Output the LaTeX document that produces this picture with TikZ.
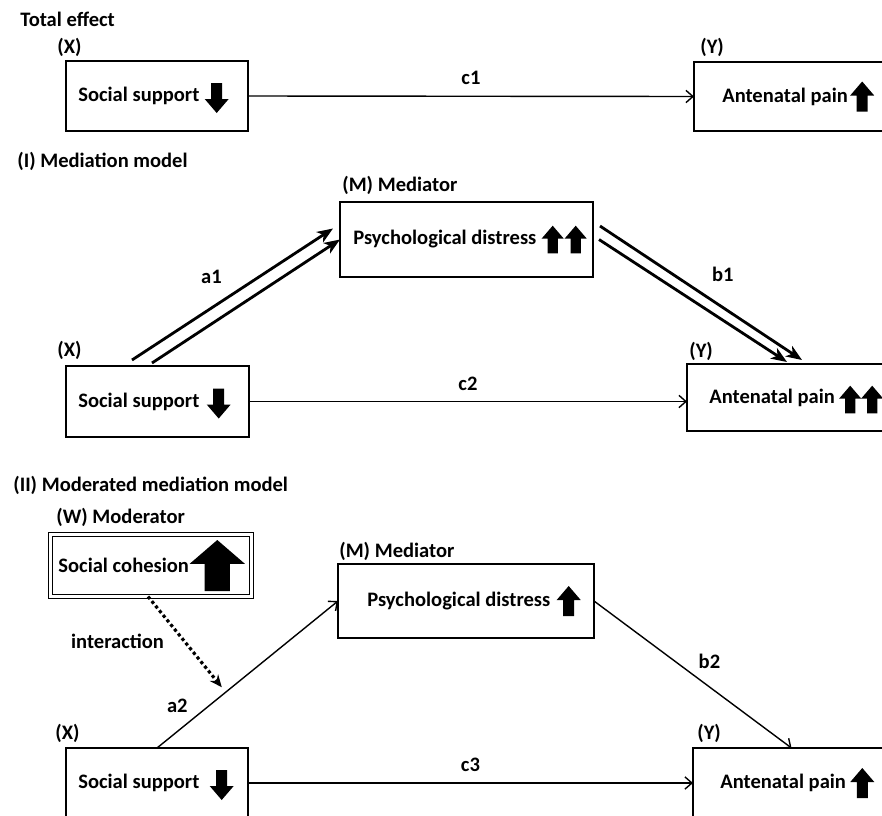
\documentclass[tikz,border=0pt]{standalone}
\usepackage{fontspec}
\setmainfont{Carlito}
\usetikzlibrary{arrows.meta,positioning}

\tikzset{
  boxsize/.style 2 args={minimum width=#1*0.02cm, minimum height=#2*0.02cm},
  box/.style={draw, line width=0.7pt, anchor=north west, inner sep=0pt, outer sep=0pt},
  lbl/.style={inner sep=0pt, font=\fontsize{11.7}{14}\selectfont\bfseries},
  thinarr/.style={line width=0.8pt, -{Straight Barb[length=4pt,width=7pt]}},
  thickarr/.style={line width=1.6pt, -{Stealth[length=9pt,width=7pt,inset=2.5pt]}},
  dotarr/.style={line width=1.8pt, dash pattern=on 1.8pt off 1.6pt, -{Stealth[length=7pt,width=6pt]}},
  uparr/.pic={\fill (-5.5,15) -- (-5.5,-1) -- (-12,-1) -- (0,-15) -- (12,-1) -- (5.5,-1) -- (5.5,15) -- cycle;},
  downarr/.pic={\fill (-5.5,-15) -- (-5.5,1) -- (-12,1) -- (0,15) -- (12,1) -- (5.5,1) -- (5.5,-15) -- cycle;}
}

\begin{document}
\begin{tikzpicture}[x=0.02cm, y=-0.02cm]
\useasboundingbox (0,0) rectangle (882,815);
\clip (0,0) rectangle (882,815);

% total effect
\node[lbl, anchor=west] (ttl1) at (20,19) {Total effect};
\node[box, boxsize={182}{70}] (xa) at (66,61) {};
\node[box, boxsize={215}{69}] (ya) at (694,62) {};
\node[lbl, anchor=west] (xalab) at ([shift={(-9,-14)}]xa.north west) {(X)};
\node[lbl, anchor=west] (yalab) at ([shift={(6,-15)}]ya.north west) {(Y)};
\node[lbl, right=6.8pt of xa.west] (xatxt) {Social support};
\node[lbl, right=15.9pt of ya.west] (yatxt) {Antenatal pain};
\pic at ([shift={(17,2)}]xatxt.east) {downarr};
\pic at ([shift={(14,0)}]yatxt.east) {uparr};
\draw[thinarr] (xa.east) -- (ya.west) node[lbl, midway, above=6pt] {c1};

% (I) mediation
\node[lbl, anchor=west] (ttl2) at (17,161) {(I) Mediation model};
\node[box, boxsize={253}{75}] (mb) at (340,202) {};
\node[box, boxsize={183}{71}] (xb) at (66,366) {};
\node[box, boxsize={215}{67}] (yb) at (687,364) {};
\node[lbl, anchor=west] (mblab) at ([shift={(2,-17)}]mb.north west) {(M) Mediator};
\node[lbl, anchor=west] (xblab) at ([shift={(-9,-16)}]xb.north west) {(X)};
\node[lbl, anchor=west] (yblab) at ([shift={(2,-13)}]yb.north west) {(Y)};
\node[lbl, right=7.4pt of mb.west] (mbtxt) {Psychological distress};
\node[lbl, right=6.8pt of xb.west] (xbtxt) {Social support};
\node[lbl, right=12.5pt of yb.west] (ybtxt) {Antenatal pain};
\pic[scale=0.92] at ([shift={(16,0)}]mbtxt.east) {uparr};
\pic[scale=0.92] at ([shift={(39,0)}]mbtxt.east) {uparr};
\pic at ([shift={(19,2)}]xbtxt.east) {downarr};
\pic[scale=0.92] at ([shift={(15,2)}]ybtxt.east) {uparr};
\pic[scale=0.92] at ([shift={(37,2)}]ybtxt.east) {uparr};
\draw[thickarr] ([shift={(-25.5,-6)}]xb.north) -- ([shift={(-7,-11)}]mb.west)
  node[lbl, midway, above left=5.3pt and 5.3pt] {a1};
\draw[thickarr] ([shift={(-5.5,-3)}]xb.north) -- (mb.west);
\draw[thickarr] ([shift={(7,-13.5)}]mb.east) -- ([shift={(7.5,-4)}]yb.north)
  node[lbl, midway, above right=5.5pt and 5.5pt] {b1};
\draw[thickarr] ([shift={(6,0)}]mb.east) -- ([shift={(-7.5,-2)}]yb.north);
\draw[thinarr] (xb.east) -- (xb.east -| yb.west) node[lbl, midway, above=6pt] {c2};

% (II) moderated mediation
\node[lbl, anchor=west] (ttl3) at (13,485) {(II) Moderated mediation model};
\node[box, boxsize={201}{62}, double, double distance=1.6pt, line width=0.6pt] (wc) at (50.5,534.5) {};
\node[box, boxsize={256}{74}] (mc) at (338,564) {};
\node[box, boxsize={182}{70}] (xc) at (66,748) {};
\node[box, boxsize={215}{70}] (yc) at (693,748) {};
\node[lbl, anchor=west] (wclab) at ([shift={(5.5,-17.5)}]wc.north west) {(W) Moderator};
\node[lbl, anchor=west] (mclab) at ([shift={(1,-13)}]mc.north west) {(M) Mediator};
\node[lbl, anchor=west] (xclab) at ([shift={(-11,-15)}]xc.north west) {(X)};
\node[lbl, anchor=west] (yclab) at ([shift={(4,-15)}]yc.north west) {(Y)};
\node[lbl, right=4.3pt of wc.west] (wctxt) {Social cohesion};
\node[lbl, right=16.5pt of mc.west] (mctxt) {Psychological distress};
\node[lbl, right=6.8pt of xc.west] (xctxt) {Social support};
\node[lbl, right=15.4pt of yc.west] (yctxt) {Antenatal pain};
\pic[xscale=2.3, yscale=1.7] at ([shift={(28,0)}]wctxt.east) {uparr};
\pic at ([shift={(18,0)}]mctxt.east) {uparr};
\pic at ([shift={(22,2)}]xctxt.east) {downarr};
\pic at ([shift={(16,0)}]yctxt.east) {uparr};
\draw[thinarr] (xc.north) -- (mc.west) coordinate[pos=0.38] (ia)
  node[lbl, pos=0.2, above left=2.8pt and 2.8pt] {a2};
\draw[thinarr] (mc.east) -- ([shift={(-9,0)}]yc.north)
  node[lbl, midway, above right=3pt and 3pt] {b2};
\draw[thinarr] (xc.east) -- (yc.west) node[lbl, midway, above=6pt] {c3};
\draw[dotarr, shorten >=3.6pt] ([shift={(-3,0)}]wc.south) -- (ia)
  node[lbl, pos=0.47, left=10.8pt] {interaction};
\end{tikzpicture}
\end{document}
